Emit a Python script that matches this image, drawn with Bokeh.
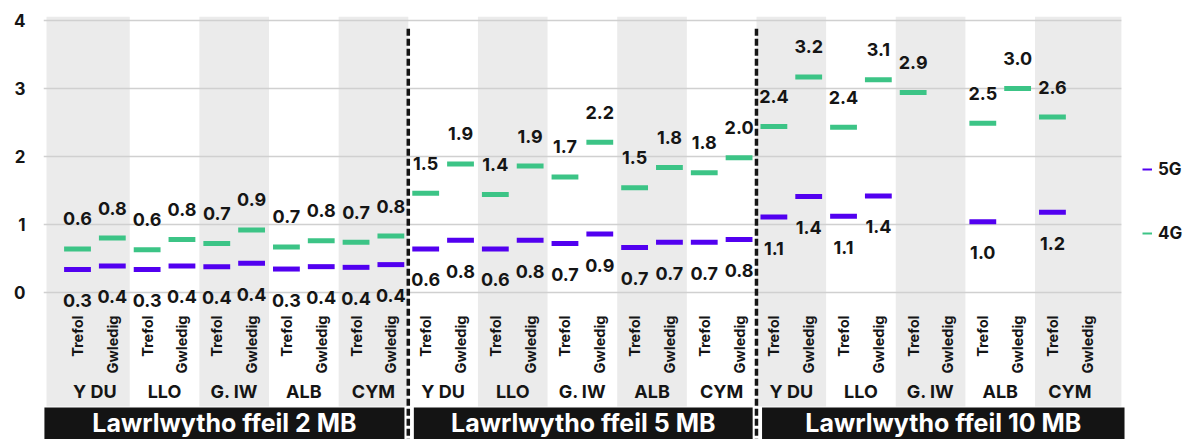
import math
from bokeh.plotting import figure
from bokeh.models import Range1d, FixedTicker, ColumnDataSource, Legend, LegendItem
from bokeh.core.properties import value
from bokeh.embed import file_html
from bokeh.resources import INLINE

# ---------------- data ----------------
regions = ["Y DU", "LLO", "G. IW", "ALB", "CYM"]
areas = ["Trefol", "Gwledig"]
tests = ["Lawrlwytho ffeil 2 MB", "Lawrlwytho ffeil 5 MB", "Lawrlwytho ffeil 10 MB"]
nan = float("nan")

# order inside each test: Y DU Trefol, Y DU Gwledig, LLO Trefol, ...
g4_2mb = [0.64, 0.80, 0.63, 0.78, 0.72, 0.92, 0.67, 0.76, 0.74, 0.83]
g5_2mb = [0.34, 0.39, 0.34, 0.39, 0.38, 0.43, 0.345, 0.38, 0.37, 0.41]
g4_5mb = [1.46, 1.89, 1.44, 1.86, 1.70, 2.21, 1.54, 1.84, 1.76, 1.98]
g5_5mb = [0.64, 0.77, 0.64, 0.77, 0.72, 0.86, 0.66, 0.74, 0.74, 0.78]
g4_10mb = [2.44, 3.17, 2.43, 3.13, 2.94, nan, 2.49, 3.00, 2.58, nan]
g5_10mb = [1.11, 1.41, 1.12, 1.42, nan, nan, 1.04, nan, 1.18, nan]

g4_series = [g4_2mb, g4_5mb, g4_10mb]
g5_series = [g5_2mb, g5_5mb, g5_10mb]
y_ticks = [0, 1, 2, 3, 4]

# ---------------- style ----------------
FONT = value("Inter")
GREEN = "#3CC486"
PURPLE = "#5200F0"
BAND = "#EBEBEB"
GRID = "#D0D0D0"
DARK = "#151515"
DASH_W = 0.77

n_r, n_a = len(regions), len(areas)
per_test = n_r * n_a


def xpos(t, r, a):
    return t * per_test + r * n_a + a


# ---------------- figure ----------------
x_start, x_end = -0.9765, 31.85
y_top = 4.0588
y_bottom = y_top - 423 / 68.0
p = figure(width=1186, height=439, output_backend="svg", toolbar_location=None,
           x_range=Range1d(x_start, x_end), y_range=Range1d(y_bottom, y_top),
           x_axis_type=None, min_border_left=43, min_border_right=0,
           min_border_top=16, min_border_bottom=0)
p.outline_line_color = None
p.ygrid.visible = False
p.background_fill_color = "white"

yax = p.yaxis[0]
yax.ticker = FixedTicker(ticks=y_ticks)
yax.axis_line_color = None
yax.major_tick_line_color = None
yax.minor_tick_line_color = None
yax.major_tick_in = 0
yax.major_tick_out = 0
yax.major_label_standoff = 18
yax.major_label_text_font = "Inter"
yax.major_label_text_font_style = "bold"
yax.major_label_text_font_size = "17px"
yax.major_label_text_color = DARK

# alternating category bands (gray at even category index)
n_cat = len(tests) * n_r
band_bottom = -1.676
pad_l, pad_r = 0.39, 0.48
bl, br = [], []
for c in range(0, n_cat, 2):
    l = c * n_a - 0.5
    r = c * n_a + n_a - 0.5
    if c == 0:
        l -= pad_l
    if c == n_cat - 1:
        r += pad_r
    bl.append(l)
    br.append(r)
p.quad(left=bl, right=br, top=y_top, bottom=band_bottom,
       fill_color=BAND, line_color=None)

# gridlines
grid_end = n_cat * n_a - 0.5 + pad_r
p.segment(x0=x_start, x1=grid_end, y0=y_ticks, y1=y_ticks,
          line_color=GRID, line_width=1.5)

# 4G / 5G dashes and labels
def series_source(series_list):
    xs, ys, labs = [], [], []
    for t, vals in enumerate(series_list):
        for k, v in enumerate(vals):
            if v is None or (isinstance(v, float) and math.isnan(v)):
                continue
            r, a = divmod(k, n_a)
            xs.append(xpos(t, r, a))
            ys.append(v)
            labs.append(f"{v:.1f}")
    return ColumnDataSource(dict(x=xs, y=ys, label=labs))

src4 = series_source(g4_series)
src5 = series_source(g5_series)

p.rect(x="x", y="y", width=DASH_W, height=5, height_units="screen",
       fill_color=GREEN, line_color=None, source=src4)
p.rect(x="x", y="y", width=DASH_W, height=5, height_units="screen",
       fill_color=PURPLE, line_color=None, source=src5)

p.text(x="x", y="y", text="label", source=src4, y_offset=-30,
       text_align="center", text_baseline="middle", text_font=FONT,
       text_font_style="bold", text_font_size="18px", text_color=DARK)
p.text(x="x", y="y", text="label", source=src5, y_offset=31,
       text_align="center", text_baseline="middle", text_font=FONT,
       text_font_style="bold", text_font_size="18px", text_color=DARK)

# vertical sub-labels (Trefol / Gwledig)
sx, st = [], []
for t in range(len(tests)):
    for r in range(n_r):
        for a in range(n_a):
            sx.append(xpos(t, r, a))
            st.append(areas[a])
p.text(x=sx, y=-0.338, text=st, angle=math.pi / 2, text_align="right",
       text_baseline="middle", text_font=FONT, text_font_style="bold",
       text_font_size="14.5px", text_color=DARK)

# region labels
rx, rt = [], []
for t in range(len(tests)):
    for r in range(n_r):
        rx.append(xpos(t, r, 0) + (n_a - 1) / 2)
        rt.append(regions[r])
p.text(x=rx, y=-1.456, text=rt, text_align="center", text_baseline="middle",
       text_font=FONT, text_font_style="bold", text_font_size="18px",
       text_color=DARK)

# test header bars (bottom)
outer, inner_l, inner_r = 0.45, 0.16, 0.11
tl, tr, tc = [], [], []
for t in range(len(tests)):
    l = t * per_test - 0.5
    r = (t + 1) * per_test - 0.5
    l = l - outer if t == 0 else l + inner_l
    r = r + outer + 0.12 if t == len(tests) - 1 else r - inner_r
    tl.append(l)
    tr.append(r)
    tc.append((l + r) / 2)
p.quad(left=tl, right=tr, top=-1.69, bottom=y_bottom - 0.1, fill_color="#141414",
       line_color=None)
p.text(x=tc, y=-1.912, text=tests, text_align="center", text_baseline="middle",
       text_font=FONT, text_font_style="bold", text_font_size="25px",
       text_color="white")

# dashed dividers between tests
dx = [t * per_test - 0.5 for t in range(1, len(tests))]
p.segment(x0=dx, x1=dx, y0=3.88, y1=y_bottom - 0.1, line_color=DARK,
          line_width=3.5, line_dash="7 3")

# legend
r5 = p.line(x=[nan], y=[nan], line_color=PURPLE, line_width=2)
r4 = p.line(x=[nan], y=[nan], line_color=GREEN, line_width=2)
legend = Legend(items=[LegendItem(label="5G", renderers=[r5]),
                       LegendItem(label="4G", renderers=[r4])],
                location=(1099, 196), glyph_width=10, glyph_height=20,
                label_height=20, spacing=44, padding=0, margin=0,
                label_standoff=6, border_line_color=None,
                background_fill_alpha=0, label_text_font="Inter",
                label_text_font_style="bold", label_text_font_size="17px",
                label_text_color=DARK)
p.add_layout(legend)

open("out.html", "w").write(file_html(p, INLINE))
